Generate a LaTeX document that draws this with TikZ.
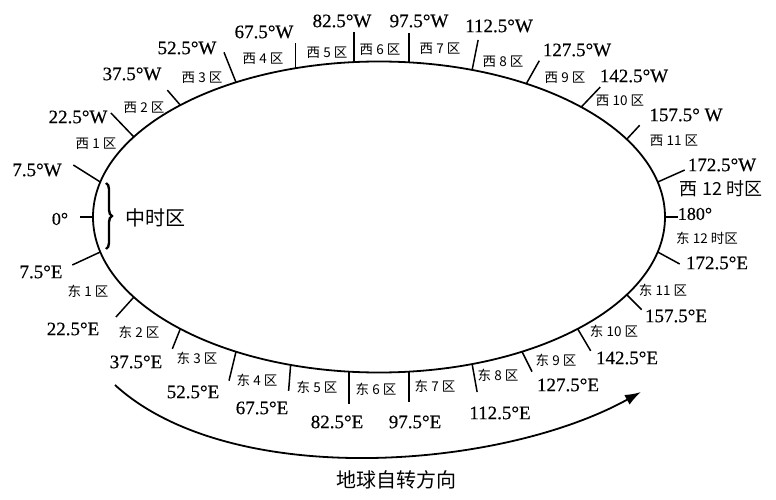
\documentclass[tikz,border=0pt]{standalone}
\usepackage{fontspec}
\setmainfont{Liberation Serif}
\newfontfamily\degfont[FakeBold=0.4]{Liberation Serif}
\newfontfamily\cjk{Noto Sans CJK SC}
\usetikzlibrary{arrows.meta, decorations.pathreplacing}
\tikzset{
    rim/.style={
        line width=1.8pt,
        draw=black
    },
    tickline/.style={
        line width=1.5pt
    },
    degree/.style={
        font=\degfont\fontsize{19}{19}\selectfont,
        inner sep=0pt
    },
    zone/.style={
        font=\cjk\fontsize{13.5}{14}\selectfont,
        inner sep=0pt
    },
    bigzone/.style={
        font=\cjk\fontsize{18}{18}\selectfont,
        inner sep=0pt
    },
    spin/.style={
        line width=1.8pt,
        -{Latex[length=16pt, width=11pt]}
    }
}
\begin{document}
\begin{tikzpicture}[x=1pt, y=-1pt]
    \useasboundingbox (0,0) rectangle (776,500);

    % Earth outline
    \draw[rim] (379,217) ellipse [x radius=286, y radius=155.5];

    % Zone boundary ticks
    \foreach \t/\dx/\dy/\n in {180/-13/0/m0, 167/-27/-17/w1, 149/-23/-24/w2, 134/-13/-15/w3,
        120/-12/-30/w4, 107/0/-25/w5, 95/0/-30/w6, 84/0/-29/w7, 71/6/-30/w8,
        59/13/-23/w9, 45/19/-20/w10, 30/13/-14/w11, 13/27/-12/w12, 0/13/0/m180,
        -13/22/12/e12, -30/15/15/e11, -46/13/22/e10, -60/10/20/e9, -71/5/28/e8,
        -84/0/30/e7, -96/0/32/e6, -108/-2/26/e5, -120/-7/29/e4, -134/-8/20/e3,
        -149/-18/20/e2, -167/-28/13/e1} {
        \coordinate (b\n) at ({379+286*cos(\t)}, {217-155.5*sin(\t)});
        \draw[tickline] (b\n) -- ++(\dx,\dy);
    }

    % Central zone
    \draw[line width=2.4pt, decorate, decoration={brace, amplitude=6pt}] (106,183) -- (106,249);
    \node (mid) [bigzone, font=\cjk\fontsize{20}{20}\selectfont] at (155,218) {中时区};
    \node (d0) [degree, font=\degfont\fontsize{18}{18}\selectfont] at (60,219) {0°};

    % West meridians
    \node (dw1) [degree] at (37,170) {7.5°W};
    \node (dw2) [degree] at (78,117) {22.5°W};
    \node (dw3) [degree] at (132,74) {37.5°W};
    \node (dw4) [degree] at (187,48) {52.5°W};
    \node (dw5) [degree] at (264,32) {67.5°W};
    \node (dw6) [degree] at (342,21) {82.5°W};
    \node (dw7) [degree] at (419,21) {97.5°W};
    \node (dw8) [degree] at (499,26) {112.5°W};
    \node (dw9) [degree] at (577,50) {127.5°W};
    \node (dw10) [degree] at (634,76) {142.5°W};
    \node (dw11) [degree] at (686,115) {157.5° W};
    \node (dw12) [degree] at (722,165) {172.5°W};
    \node (d180) [degree, font=\degfont\fontsize{18}{18}\selectfont] at (695,214) {180°};

    % West zones
    \node (zw1) [zone] at (96,144) {西 1 区};
    \node (zw2) [zone] at (144,108) {西 2 区};
    \node (zw3) [zone] at (202,78) {西 3 区};
    \node (zw4) [zone] at (263,59) {西 4 区};
    \node (zw5) [zone] at (327,53) {西 5 区};
    \node (zw6) [zone] at (380,50) {西 6 区};
    \node (zw7) [zone] at (440,49) {西 7 区};
    \node (zw8) [zone] at (503,62) {西 8 区};
    \node (zw9) [zone] at (565,78) {西 9 区};
    \node (zw10) [zone] at (620,101) {西 10 区};
    \node (zw11) [zone] at (674,141) {西 11 区};
    \node (zw12) [bigzone] at (721,189) {西 12 时区};

    % East meridians
    \node (de1) [degree] at (41,272) {7.5°E};
    \node (de2) [degree] at (73,329) {22.5°E};
    \node (de3) [degree] at (136,362) {37.5°E};
    \node (de4) [degree] at (193,392) {52.5°E};
    \node (de5) [degree] at (262,408) {67.5°E};
    \node (de6) [degree] at (337,422) {82.5°E};
    \node (de7) [degree] at (415,422) {97.5°E};
    \node (de8) [degree] at (500,413) {112.5°E};
    \node (de9) [degree] at (568,385) {127.5°E};
    \node (de10) [degree] at (627,358) {142.5°E};
    \node (de11) [degree] at (676,316) {157.5°E};
    \node (de12) [degree] at (717,263) {172.5°E};

    % East zones
    \node (ze1) [zone] at (88,291) {东 1 区};
    \node (ze2) [zone] at (139,332) {东 2 区};
    \node (ze3) [zone] at (197,358) {东 3 区};
    \node (ze4) [zone] at (257,380) {东 4 区};
    \node (ze5) [zone] at (317,387) {东 5 区};
    \node (ze6) [zone] at (376,389) {东 6 区};
    \node (ze7) [zone] at (435,386) {东 7 区};
    \node (ze8) [zone] at (498,375) {东 8 区};
    \node (ze9) [zone] at (556,360) {东 9 区};
    \node (ze10) [zone] at (614,331) {东 10 区};
    \node (ze11) [zone] at (663,290) {东 11 区};
    \node (ze12) [zone] at (707,238) {东 12 时区};

    % Rotation arrow
    \coordinate (spinstart) at (115,385);
    \coordinate (spinend) at (641,392);
    \draw[spin] (spinstart) .. controls (230,490) and (500,470) .. (spinend);
    \node (spinlabel) [font=\cjk\fontsize{20}{20}\selectfont, inner sep=0pt] at (396,480) {地球自转方向};

\end{tikzpicture}
\end{document}
